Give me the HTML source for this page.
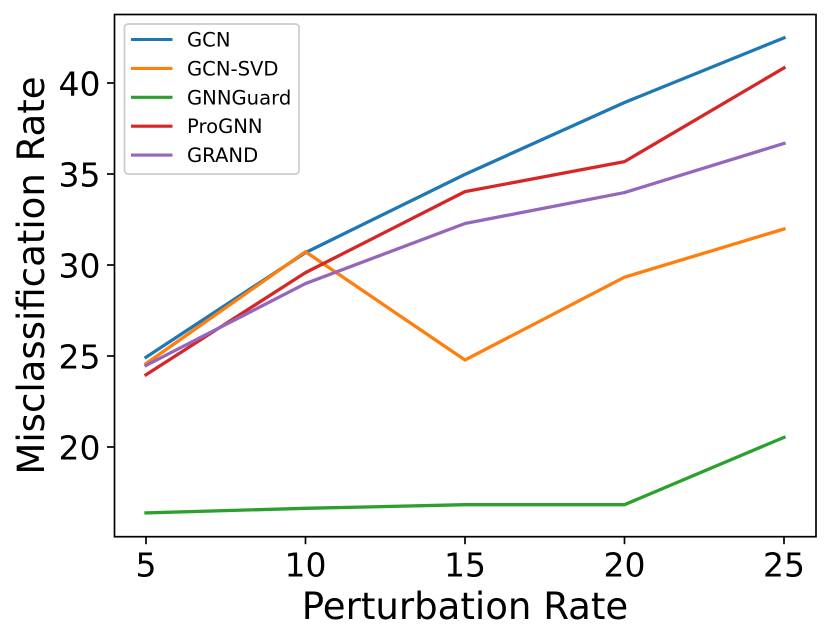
<!DOCTYPE html>
<html>
<head>
<meta charset="utf-8">
<style>
html,body{margin:0;padding:0;background:#fff;}
svg{display:block;}
text{font-family:"DejaVu Sans","Liberation Sans",sans-serif;fill:#000;}
</style>
</head>
<body>
<svg id="chart" width="830" height="641" viewBox="0 0 830 641" xmlns="http://www.w3.org/2000/svg"></svg>
<script>
const categories = [5, 10, 15, 20, 25];
const seriesNames = ['GCN', 'GCN-SVD', 'GNNGuard', 'ProGNN', 'GRAND'];
const gcnValues = [24.93, 30.68, 34.98, 38.93, 42.48];
const gcnSvdValues = [24.58, 30.73, 24.78, 29.33, 31.98];
const gnnGuardValues = [16.38, 16.63, 16.83, 16.83, 20.53];
const proGnnValues = [23.97, 29.58, 34.03, 35.68, 40.83];
const grandValues = [24.48, 28.98, 32.28, 33.98, 36.68];
const xTicks = [5, 10, 15, 20, 25];
const yTicks = [20, 25, 30, 35, 40];
const xAxisTitle = 'Perturbation Rate';
const yAxisTitle = 'Misclassification Rate';

const allSeries = [gcnValues, gcnSvdValues, gnnGuardValues, proGnnValues, grandValues];
const colors = ['#1f77b4', '#ff7f0e', '#2ca02c', '#d62728', '#9467bd'];
const NS = 'http://www.w3.org/2000/svg';
const svg = document.getElementById('chart');
const plot = {left: 114.5, right: 816, top: 14.5, bottom: 536.7};

function xScale(v) { return 146 + (v - 5) * (784 - 146) / 20; }
function yScale(v) { return 447 + (v - 20) * (83 - 447) / 20; }

function make(tag, attrs, parent) {
  const el = document.createElementNS(NS, tag);
  for (const k in attrs) el.setAttribute(k, attrs[k]);
  (parent || svg).appendChild(el);
  return el;
}

// series lines
allSeries.forEach(function (vals, i) {
  const line = make('polyline', {
    points: vals.map(function (v, j) { return xScale(categories[j]) + ',' + yScale(v); }).join(' '),
    fill: 'none', stroke: colors[i], 'stroke-width': 3.3, 'stroke-linejoin': 'round', 'stroke-linecap': 'square'
  });
  
  
});

// frame
const frame = make('rect', {
  x: plot.left, y: plot.top, width: plot.right - plot.left, height: plot.bottom - plot.top,
  fill: 'none', stroke: '#000', 'stroke-width': 1.7
});



// x ticks
xTicks.forEach(function (t) {
  const x = xScale(t);
  const tick = make('line', {x1: x, x2: x, y1: plot.bottom, y2: plot.bottom + 7.5, stroke: '#000', 'stroke-width': 1.7});
  
  
  const label = make('text', {x: x, y: 576.3, 'text-anchor': 'middle', 'font-size': 33});
  label.textContent = t;
  
  
});

// y ticks
yTicks.forEach(function (t) {
  const y = yScale(t);
  const tick = make('line', {x1: plot.left, x2: plot.left - 7.5, y1: y, y2: y, stroke: '#000', 'stroke-width': 1.7});
  
  
  const label = make('text', {x: 100.5, y: y + 12.5, 'text-anchor': 'end', 'font-size': 33});
  label.textContent = t;
  
  
});

// axis titles
const xt = make('text', {x: 465, y: 619, 'text-anchor': 'middle', 'font-size': 37.1});
xt.textContent = xAxisTitle;



const yt = make('text', {x: 0, y: 0, 'text-anchor': 'middle', 'font-size': 37.1, transform: 'translate(44 275.5) rotate(-90)'});
yt.textContent = yAxisTitle;



// legend
const legend = make('g', {});


const box = make('rect', {x: 124.5, y: 24, width: 174.5, height: 150, rx: 3.5, ry: 3.5, fill: '#fff', 'fill-opacity': 0.8, stroke: '#ccc', 'stroke-width': 1.7}, legend);


seriesNames.forEach(function (name, i) {
  const y = 39.5 + i * 28.9;
  const entry = make('g', {}, legend);
  
  
  const swatch = make('line', {x1: 131, x2: 172.5, y1: y, y2: y, stroke: colors[i], 'stroke-width': 3.1}, entry);
  
  
  const text = make('text', {x: 187, y: y + 7, 'font-size': 19.6}, entry);
  text.textContent = name;
  
  
});
</script>
</body>
</html>
